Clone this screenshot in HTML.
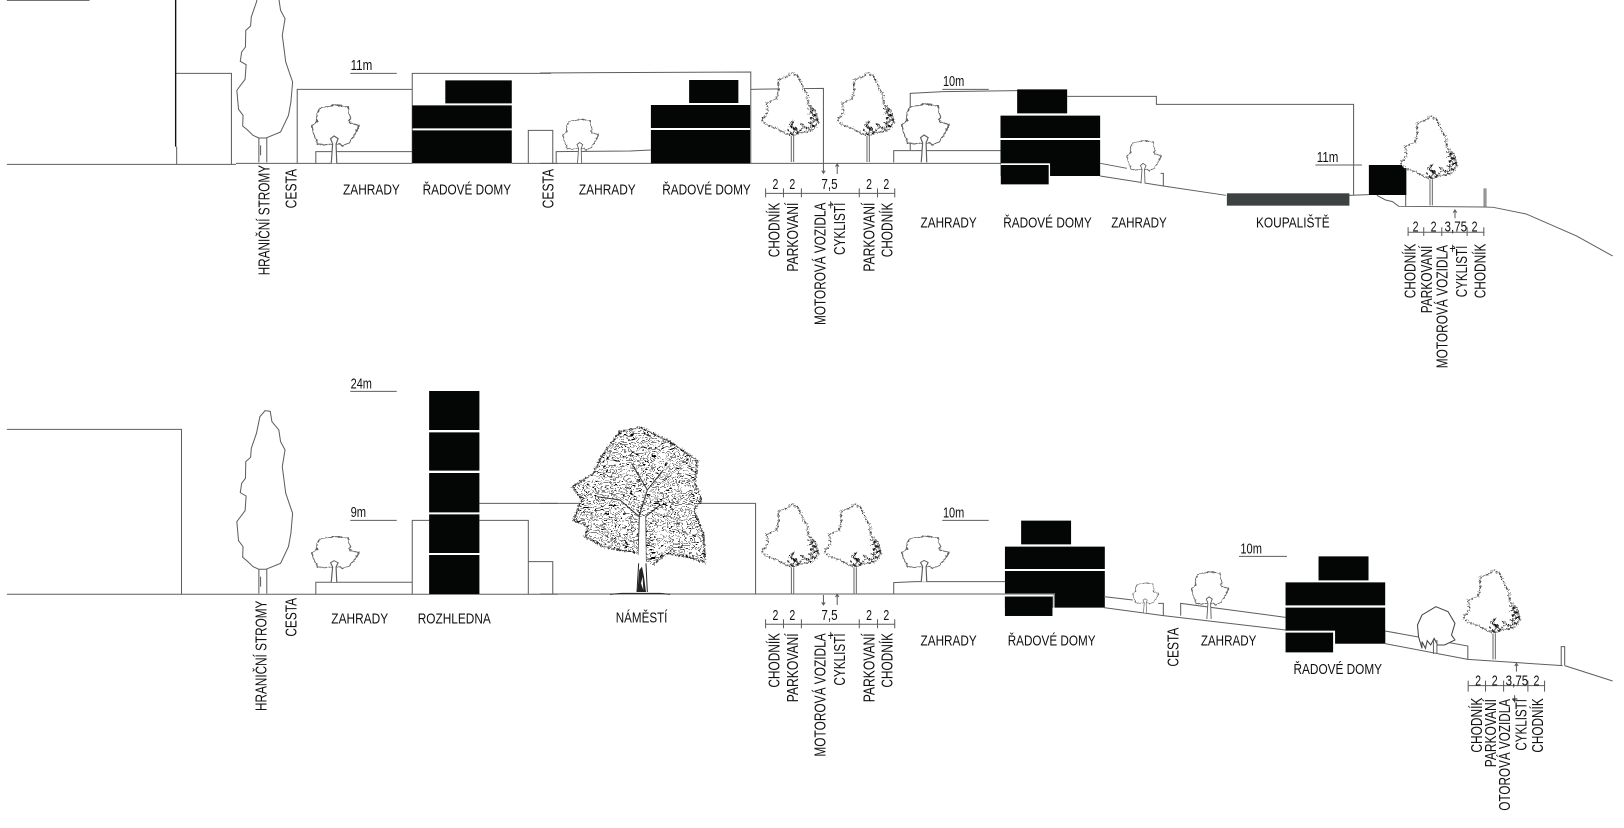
<!DOCTYPE html>
<html><head><meta charset="utf-8"><style>
html,body{margin:0;padding:0;background:#fff;width:1624px;height:828px;overflow:hidden}
svg{display:block}
text{font-family:"Liberation Sans","DejaVu Sans",sans-serif;font-size:45px;fill:#111;stroke:none}
.n{font-size:45px}
.l{fill:none;stroke:#5e5e5e;stroke-width:3}
.k{fill:#040606;stroke:none}
</style></head><body>
<svg width="1624" height="828" viewBox="0 0 1624 828" xmlns="http://www.w3.org/2000/svg">
<defs>
<filter id="r" x="-15%" y="-15%" width="130%" height="130%"><feTurbulence type="fractalNoise" baseFrequency="0.09" numOctaves="2" seed="3"/><feDisplacementMap in="SourceGraphic" scale="11" xChannelSelector="R" yChannelSelector="G"/></filter>
<filter id="r2" x="-15%" y="-15%" width="130%" height="130%"><feTurbulence type="fractalNoise" baseFrequency="0.2" numOctaves="2" seed="8"/><feDisplacementMap in="SourceGraphic" scale="16" xChannelSelector="R" yChannelSelector="G"/></filter>
<filter id="leaf" x="0" y="0" width="100%" height="100%" color-interpolation-filters="sRGB"><feTurbulence type="fractalNoise" baseFrequency="0.028 0.06" numOctaves="2" seed="11"/><feColorMatrix values="0 0 0 0 0 0 0 0 0 0 0 0 0 0 0 1 0 0 0 0"/><feComponentTransfer><feFuncA type="discrete" tableValues="0 0 0 0 0 0 0 0 0 0 0 0 0 0 1 0 0 0 0 0 1 0 0 0 0 1 0 0 0 0 0 1 0 0 0 0 0 0 0 0"/></feComponentTransfer></filter>
<clipPath id="crown"><path d="M180,35L240,22L300,50L340,72L412,122L405,190L425,240L402,270L430,345L436,428L380,410L320,400L280,435L260,425L235,400L180,390L130,380L75,350L85,320L40,302L65,240L38,200L100,160L130,100Z"/></clipPath>

<g id="cyp"><path transform="translate(-764,-673)" fill="#fff" stroke="#5e5e5e" stroke-width="3" d="M752,671V598L735,590L718,573L705,562L706,530L693,512L688,455L712,422L715,378L698,368L702,340L713,325L714,275L728,262L730,235L745,190L755,140L770,122L785,124L790,155L810,180L815,215L828,240L820,290L830,370L850,430L845,490L838,530L815,580L775,597V671M752,598H775M757,620V650"/></g>

<g id="gar"><g fill="#fff" stroke="#5e5e5e" stroke-width="3.4">
<path filter="url(#r)" d="M-48,-58L-58,-85L-65,-112L-48,-125L-50,-150L-35,-168L0,-175L42,-170L42,-150L50,-138L42,-125L72,-113L60,-85L46,-62L25,-54L0,-60L-20,-56Z"/>
<path d="M-8,0L-4,-58L-10,-74L0,-82L12,-74L6,-58L8,0"/></g></g>

<g id="st"><g transform="translate(-127,-308)">
<path filter="url(#r2)" fill="#fff" stroke="#444" stroke-width="3" d="M110,222L80,205L50,195L35,182L55,155L50,130L80,115L85,95L85,60L110,50L127,38L145,50L160,85L170,100L175,135L195,150L205,185L190,210L150,218L127,225Z"/>
<path filter="url(#r2)" fill="none" stroke="#111" stroke-width="3" d="M172,145L190,150L178,160L198,165L182,175L203,180L178,190L195,200L170,205L185,212M148,212L165,200L150,190M122,185L124,205L130,182M112,208L125,222L140,205L118,198L145,215L135,226"/>
<path fill="none" stroke="#666" stroke-width="3" d="M124,228V306M131,228V306"/></g></g>
</defs>
<rect width="1624" height="828" fill="#fff"/>

<!-- top row left -->
<g transform="translate(0,0) scale(.3444,.3333)">
<path class="l" d="M20,1H260M513,440V492M20,493H685M510,220H672V492M685,490H1197M863,490V268H1197M917,490V455H1197M1197,490V220H1600M1534,490V391H1605V490M1486,490H1620"/>
<path d="M510,0V440" fill="none" stroke="#111" stroke-width="4"/>
<path class="k" d="M1197,316H1486V385H1197ZM1197,391H1486V490H1197ZM1293,241H1486V310H1293Z"/>
<path class="l" d="M1017,220H1152"/>
<text x="1018" y="210" textLength="63" lengthAdjust="spacingAndGlyphs">11m</text>
<text x="996" y="583" textLength="165" lengthAdjust="spacingAndGlyphs">ZAHRADY</text>
<text x="1227" y="583" textLength="257" lengthAdjust="spacingAndGlyphs">ŘADOVÉ DOMY</text>
<text transform="translate(782,826) rotate(-90)" textLength="331" lengthAdjust="spacingAndGlyphs">HRANIČNÍ STROMY</text>
<text transform="translate(861,625) rotate(-90)" textLength="118" lengthAdjust="spacingAndGlyphs">CESTA</text>
<text transform="translate(1607,625) rotate(-90)" textLength="118" lengthAdjust="spacingAndGlyphs">CESTA</text>
</g>
<use href="#cyp" transform="translate(263,163) scale(.3444,.3333)"/>
<use href="#gar" transform="translate(334,163.3) scale(.3444,.3333)"/>

<!-- top row middle -->
<g transform="translate(540,0) scale(.3444,.3333)">
<path class="l" d="M0,219L170,218L612,216V490M0,490H1338M47,488V455L262,453L322,450M612,268L823,265V490M1027,487V452H1338M1075,450V280L1170,275L1385,272M1168,268H1303"/>
<path class="k" d="M322,315H610V384H322ZM322,390H610V490H322ZM433,240H576V309H433Z"/>
<path class="l" stroke-width="2.4" d="M823,490V520M818,512L823,520L828,512M863,522V492M858,500L863,492L868,500M655,580H1030M655,565V592M707,565V592M759,565V592M927,565V592M980,565V592M1030,565V592"/>
<text class="n" x="675" y="567" textLength="17" lengthAdjust="spacingAndGlyphs">2</text>
<text class="n" x="724" y="567" textLength="17" lengthAdjust="spacingAndGlyphs">2</text>
<text class="n" x="817" y="567" textLength="47" lengthAdjust="spacingAndGlyphs">7,5</text>
<text class="n" x="947" y="567" textLength="17" lengthAdjust="spacingAndGlyphs">2</text>
<text class="n" x="997" y="567" textLength="17" lengthAdjust="spacingAndGlyphs">2</text>
<text transform="translate(696,772) rotate(-90)" textLength="164" lengthAdjust="spacingAndGlyphs">CHODNÍK</text>
<text transform="translate(749,815) rotate(-90)" textLength="207" lengthAdjust="spacingAndGlyphs">PARKOVANÍ</text>
<text transform="translate(829,975) rotate(-90)" textLength="367" lengthAdjust="spacingAndGlyphs">MOTOROVÁ VOZIDLA</text>
<text class="n" x="835" y="630" textLength="18" lengthAdjust="spacingAndGlyphs">+</text>
<text transform="translate(886,765) rotate(-90)" textLength="157" lengthAdjust="spacingAndGlyphs">CYKLISTÍ</text>
<text transform="translate(971,815) rotate(-90)" textLength="207" lengthAdjust="spacingAndGlyphs">PARKOVANÍ</text>
<text transform="translate(1023,772) rotate(-90)" textLength="164" lengthAdjust="spacingAndGlyphs">CHODNÍK</text>
<text x="113" y="583" textLength="165" lengthAdjust="spacingAndGlyphs">ZAHRADY</text>
<text x="355" y="583" textLength="257" lengthAdjust="spacingAndGlyphs">ŘADOVÉ DOMY</text>
<text x="1105" y="683" textLength="163" lengthAdjust="spacingAndGlyphs">ZAHRADY</text>
<text x="1345" y="683" textLength="257" lengthAdjust="spacingAndGlyphs">ŘADOVÉ DOMY</text>
<text x="1170" y="258" textLength="62" lengthAdjust="spacingAndGlyphs">10m</text>
</g>
<g transform="translate(1080,0) scale(.3472,.3333)">
<path class="k" d="M-181,268H-37V340H-181ZM-229,347H58V414H-229ZM-229,420H58V528H-229Z"/>
</g>
<g transform="translate(540,0) scale(.3444,.3333)">
<rect x="1338" y="490" width="143" height="40" fill="#fff"/>
<path class="k" d="M1338,495H1477V553H1338Z"/>
</g>
<use href="#gar" transform="translate(579.6,163) scale(.26,.25)"/>
<use href="#st" transform="translate(792.3,162.7) scale(.3333)"/>
<use href="#st" transform="translate(868,162.7) scale(.3333)"/>
<use href="#gar" transform="translate(924,162.3) scale(.3444,.3333)"/>

<!-- top row right -->
<g transform="translate(1080,0) scale(.3472,.3333)">
<path class="l" d="M-37,289H220V313H788V585M58,490L135,505M58,528L240,558L420,586M232,520H240V558M776,586L832,584M855,586L880,600L900,605L918,619L1165,621M938,585V619M1164,565V620M1169,565V622M1165,621L1190,622L1285,642L1430,708L1534,768M678,495H812"/>
<rect x="423" y="580" width="353" height="37" fill="#3e4242"/>
<path class="k" d="M832,495H940V585H832Z"/>
<path class="l" stroke-width="2.4" d="M1080,655V630M1075,638L1080,630L1085,638M945,697H1165M945,682V708M990,682V708M1042,682V708M1115,682V708M1163,682V708"/>
<text class="n" x="958" y="695" textLength="17" lengthAdjust="spacingAndGlyphs">2</text>
<text class="n" x="1010" y="695" textLength="17" lengthAdjust="spacingAndGlyphs">2</text>
<text class="n" x="1050" y="695" textLength="65" lengthAdjust="spacingAndGlyphs">3,75</text>
<text class="n" x="1128" y="695" textLength="17" lengthAdjust="spacingAndGlyphs">2</text>
<text transform="translate(966,895) rotate(-90)" textLength="164" lengthAdjust="spacingAndGlyphs">CHODNÍK</text>
<text transform="translate(1014,940) rotate(-90)" textLength="203" lengthAdjust="spacingAndGlyphs">PARKOVANÍ</text>
<text transform="translate(1059,1105) rotate(-90)" textLength="370" lengthAdjust="spacingAndGlyphs">MOTOROVÁ VOZIDLA</text>
<text class="n" x="1064" y="760" textLength="18" lengthAdjust="spacingAndGlyphs">+</text>
<text transform="translate(1114,892) rotate(-90)" textLength="155" lengthAdjust="spacingAndGlyphs">CYKLISTÍ</text>
<text transform="translate(1168,895) rotate(-90)" textLength="164" lengthAdjust="spacingAndGlyphs">CHODNÍK</text>
<text x="90" y="683" textLength="160" lengthAdjust="spacingAndGlyphs">ZAHRADY</text>
<text x="507" y="683" textLength="212" lengthAdjust="spacingAndGlyphs">KOUPALIŠTĚ</text>
<text x="682" y="486" textLength="62" lengthAdjust="spacingAndGlyphs">11m</text>
</g>
<use href="#gar" transform="translate(1143,183.5) scale(.25,.245)"/>
<use href="#st" transform="translate(1431,206) scale(.3333)"/>

<!-- bottom row left -->
<g transform="translate(0,370) scale(.3444,.3333)">
<path class="l" d="M20,178H527V673M20,673H1620M917,673V637H1197M1197,673V451H1246M1392,451H1534V673M1534,575H1605V673M1392,400H1620M1017,64H1152M1017,451H1152"/>
<path class="k" d="M1246,63H1392V180H1246ZM1246,187H1392V302H1246ZM1246,309H1392V427H1246ZM1246,433H1392V549H1246ZM1246,555H1392V672H1246Z"/>
<text x="1018" y="55" textLength="62" lengthAdjust="spacingAndGlyphs">24m</text>
<text x="1018" y="441" textLength="45" lengthAdjust="spacingAndGlyphs">9m</text>
<text transform="translate(774,1023) rotate(-90)" textLength="331" lengthAdjust="spacingAndGlyphs">HRANIČNÍ STROMY</text>
<text transform="translate(861,800) rotate(-90)" textLength="116" lengthAdjust="spacingAndGlyphs">CESTA</text>
<text x="962" y="760" textLength="165" lengthAdjust="spacingAndGlyphs">ZAHRADY</text>
<text x="1213" y="760" textLength="212" lengthAdjust="spacingAndGlyphs">ROZHLEDNA</text>
</g>
<use href="#cyp" transform="translate(263,594.3) scale(.3444,.3333)"/>
<use href="#gar" transform="translate(334,582) scale(.3444,.26)"/>

<!-- bottom row middle -->
<g transform="translate(540,410) scale(.3444,.3333)">
<path class="l" d="M0,280H626V552M0,552H1350M1027,552V518L1090,515H1350M1168,331H1303"/>
<path class="l" stroke-width="2.4" d="M823,555V585M818,577L823,585L828,577M863,585V553M858,561L863,553L868,561M655,643H1030M655,628V655M707,628V655M759,628V655M927,628V655M980,628V655M1030,628V655"/>
<text class="n" x="675" y="630" textLength="17" lengthAdjust="spacingAndGlyphs">2</text>
<text class="n" x="724" y="630" textLength="17" lengthAdjust="spacingAndGlyphs">2</text>
<text class="n" x="817" y="630" textLength="47" lengthAdjust="spacingAndGlyphs">7,5</text>
<text class="n" x="947" y="630" textLength="17" lengthAdjust="spacingAndGlyphs">2</text>
<text class="n" x="997" y="630" textLength="17" lengthAdjust="spacingAndGlyphs">2</text>
<text transform="translate(696,833) rotate(-90)" textLength="164" lengthAdjust="spacingAndGlyphs">CHODNÍK</text>
<text transform="translate(749,877) rotate(-90)" textLength="207" lengthAdjust="spacingAndGlyphs">PARKOVANÍ</text>
<text transform="translate(829,1040) rotate(-90)" textLength="370" lengthAdjust="spacingAndGlyphs">MOTOROVÁ VOZIDLA</text>
<text class="n" x="835" y="692" textLength="18" lengthAdjust="spacingAndGlyphs">+</text>
<text transform="translate(886,827) rotate(-90)" textLength="157" lengthAdjust="spacingAndGlyphs">CYKLISTÍ</text>
<text transform="translate(971,877) rotate(-90)" textLength="207" lengthAdjust="spacingAndGlyphs">PARKOVANÍ</text>
<text transform="translate(1023,833) rotate(-90)" textLength="164" lengthAdjust="spacingAndGlyphs">CHODNÍK</text>
<text x="220" y="638" textLength="150" lengthAdjust="spacingAndGlyphs">NÁMĚSTÍ</text>
<text x="1105" y="706" textLength="163" lengthAdjust="spacingAndGlyphs">ZAHRADY</text>
<text x="1358" y="706" textLength="255" lengthAdjust="spacingAndGlyphs">ŘADOVÉ DOMY</text>
<text x="1170" y="322" textLength="62" lengthAdjust="spacingAndGlyphs">10m</text>
<path class="k" d="M1397,332H1542V403H1397ZM1350,410H1640V477H1350ZM1350,483H1640V593H1350Z"/>
<path d="M1350,553H1492V593" fill="none" stroke="#fff" stroke-width="6"/>
<rect x="1350" y="553" width="139" height="7" fill="#fff"/>
<rect x="1350" y="560" width="138" height="58" class="k"/>
<path d="M1350,552H1493V592" fill="none" stroke="#5e5e5e" stroke-width="3"/>
</g>

<!-- big tree -->
<g transform="translate(560,420) scale(.3333)">
<path fill="#fff" d="M180,35L240,22L300,50L340,72L412,122L405,190L425,240L402,270L430,345L436,428L380,410L320,400L280,435L260,425L235,400L180,390L130,380L75,350L85,320L40,302L65,240L38,200L100,160L130,100Z"/>
<g clip-path="url(#crown)"><rect x="30" y="15" width="415" height="425" filter="url(#leaf)"/></g>
<path fill="none" stroke="#222" stroke-width="3.5" filter="url(#r2)" d="M180,35L240,22L300,50L340,72L412,122L405,190L425,240L402,270L430,345L436,428L380,410L320,400L280,435M235,400L180,390L130,380L75,350L85,320L40,302L65,240L38,200L100,160L130,100L180,35"/>
<path fill="none" stroke="#333" stroke-width="3" d="M235,405L238,285L262,210L310,150M258,425L257,290L300,255M238,290L180,240L110,230M262,210L215,130"/>
<path fill="#fff" d="M240,290L256,290L258,430L234,430Z"/>
<path fill="none" stroke="#222" stroke-width="3" d="M236,430L231,516M258,430L262,516M150,523L185,520H300L330,523"/>
<path fill="#222" d="M238,450L246,440L252,470L258,516H232Z"/>
<path fill="#fff" d="M243,490L248,470L250,510Z"/>
</g>
<use href="#st" transform="translate(792.4,594) scale(.3333)"/>
<use href="#st" transform="translate(855,594) scale(.3333)"/>
<use href="#gar" transform="translate(924,581.7) scale(.3444,.26)"/>

<!-- bottom row right -->
<g transform="translate(1080,520) scale(.3472,.3333)">
<path class="l" d="M69,230L152,240M225,250H240V287M69,263L240,287L592,330M290,287V250L592,292M879,333L1117,378V418M879,371L1117,418L1390,437M1386,437V380H1396V437M1396,437L1534,483M458,109H596"/>
<path class="k" d="M687,109H831V181H687ZM592,187H879V256H592ZM592,263H879V371H592Z"/>
<rect x="592" y="332" width="143" height="40" fill="#fff"/>
<path class="k" d="M735,332H879V371H735ZM592,338H729V397H592Z"/>
<path class="l" stroke-width="2.4" d="M1257,455V430M1252,438L1257,430L1262,438M1118,497H1338M1118,482V515M1168,482V515M1220,482V515M1290,482V515M1338,482V515"/>
<path fill="#fff" stroke="#444" stroke-width="3" d="M985,385L975,350L972,315L985,285L1025,260L1060,275L1080,310L1070,345L1080,360L1050,375L1030,375L1020,355L1010,375L1000,362L995,385L985,365Z"/>
<path fill="none" stroke="#666" stroke-width="3" d="M1018,360V402M1028,360V402"/>
<text class="n" x="1138" y="497" textLength="17" lengthAdjust="spacingAndGlyphs">2</text>
<text class="n" x="1186" y="497" textLength="17" lengthAdjust="spacingAndGlyphs">2</text>
<text class="n" x="1226" y="497" textLength="65" lengthAdjust="spacingAndGlyphs">3,75</text>
<text class="n" x="1306" y="497" textLength="17" lengthAdjust="spacingAndGlyphs">2</text>
<text transform="translate(1158,698) rotate(-90)" textLength="165" lengthAdjust="spacingAndGlyphs">CHODNÍK</text>
<text transform="translate(1198,742) rotate(-90)" textLength="205" lengthAdjust="spacingAndGlyphs">PARKOVANÍ</text>
<text transform="translate(1238,872) rotate(-90)" textLength="335" lengthAdjust="spacingAndGlyphs">OTOROVÁ VOZIDLA</text>
<text class="n" x="1243" y="552" textLength="18" lengthAdjust="spacingAndGlyphs">+</text>
<text transform="translate(1286,692) rotate(-90)" textLength="155" lengthAdjust="spacingAndGlyphs">CYKLISTÍ</text>
<text transform="translate(1334,698) rotate(-90)" textLength="163" lengthAdjust="spacingAndGlyphs">CHODNÍK</text>
<text transform="translate(284,440) rotate(-90)" textLength="117" lengthAdjust="spacingAndGlyphs">CESTA</text>
<text x="348" y="376" textLength="160" lengthAdjust="spacingAndGlyphs">ZAHRADY</text>
<text x="615" y="462" textLength="255" lengthAdjust="spacingAndGlyphs">ŘADOVÉ DOMY</text>
<text x="462" y="100" textLength="62" lengthAdjust="spacingAndGlyphs">10m</text>
</g>
<use href="#gar" transform="translate(1145,612.7) scale(.19,.17)"/>
<use href="#gar" transform="translate(1209,619) scale(.27,.27)"/>
<use href="#st" transform="translate(1494,660) scale(.3333)"/>
</svg>
</body></html>
